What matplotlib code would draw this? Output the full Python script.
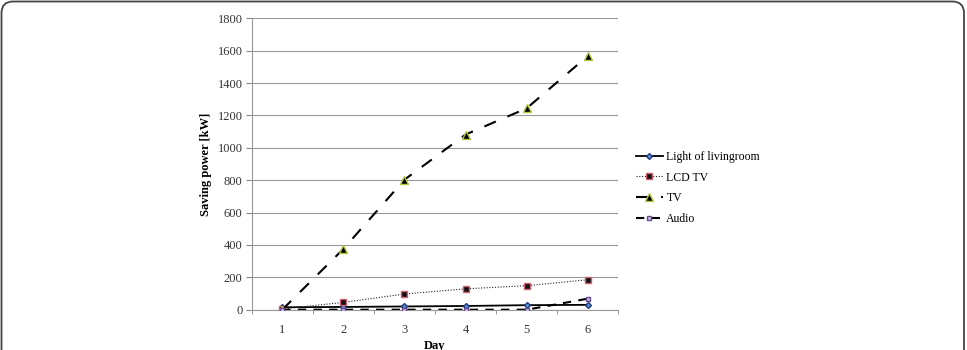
import matplotlib
matplotlib.use("Agg")
import matplotlib.pyplot as plt
from matplotlib.patches import FancyBboxPatch

days = [1, 2, 3, 4, 5, 6]
light = [15, 17, 20, 23, 28, 30]
lcd_tv = [5, 45, 97, 129, 148, 185]
tv = [0, 375, 803, 1082, 1244, 1567]
audio = [0, 0, 0, 0, 0, 68]

plt.rcParams["font.family"] = ["Liberation Serif", "DejaVu Serif"]

fig = plt.figure(figsize=(9.67, 3.5), dpi=100)

# rounded frame around the figure (bottom edge runs off the image)
frame = FancyBboxPatch(
    (1.5 / 967, -0.2), 962.5 / 967, 1.2 - 1.5 / 350,
    boxstyle="round,pad=0,rounding_size=0.012",
    transform=fig.transFigure, facecolor="none", edgecolor="#444444", linewidth=1.3,
    mutation_aspect=967 / 350,
)
fig.patches.append(frame)

ax = fig.add_axes([251.7 / 967, 40.3 / 350, 366.6 / 967, 291.4 / 350])

x = [d - 0.5 for d in days]
ax.plot(x, light, color="black", lw=1.3, marker="D", ms=3,
        mfc="#5b8fd6", mec="#1f3a7a", label="Light of livingroom", zorder=3)
ax.plot(x, lcd_tv, color="#222222", lw=0.8, ls=(0, (1, 1.5)), marker="s", ms=4.5,
        mfc="#111111", mec="#d06070", mew=1, label="LCD TV", zorder=3)
ax.plot(x, tv, color="black", lw=1.5, ls=(0, (6, 6)), marker="^", ms=5.5,
        mfc="black", mec="#b5c840", mew=1, label="TV", zorder=3)
ax.plot(x, audio, color="black", lw=1.5, ls=(0, (4, 3.5)), marker="s", ms=3.5,
        mfc="#c8c0e0", mec="#6a4a90", mew=1, label="Audio", zorder=3)

ax.set_xlim(0, 6)
ax.set_ylim(0, 1800)
ax.set_yticks(range(0, 1801, 200))
ax.set_xticks([d - 0.5 for d in days])
ax.set_xticklabels([str(d) for d in days])
ax.set_xticks(range(0, 7), minor=True)
ax.tick_params(axis="x", which="major", length=0, labelsize=9, pad=10)
ax.tick_params(axis="x", which="minor", length=3, direction="out", color="#888888")
ax.tick_params(axis="y", length=4, direction="out", labelsize=9, color="#888888", pad=2.5)
for lab in ax.get_yticklabels() + ax.get_xticklabels():
    lab.set_color("#333333")

ax.grid(axis="y", color="#999999", lw=0.8)
ax.set_axisbelow(True)
for side in ("top", "right"):
    ax.spines[side].set_visible(False)
ax.spines["left"].set_color("#999999")
ax.spines["bottom"].set_color("#999999")

ax.set_xlabel("Day", fontsize=9, fontweight="bold", labelpad=3)
ax.set_ylabel("Saving power [kW]", fontsize=9, fontweight="bold", labelpad=4)

fig.legend(loc="center left", bbox_to_anchor=(625 / 967, (350 - 188) / 350),
           frameon=False, fontsize=8.5, handlelength=2.3, labelspacing=0.75, handletextpad=0.3)

fig.savefig("out.png", dpi=100)
